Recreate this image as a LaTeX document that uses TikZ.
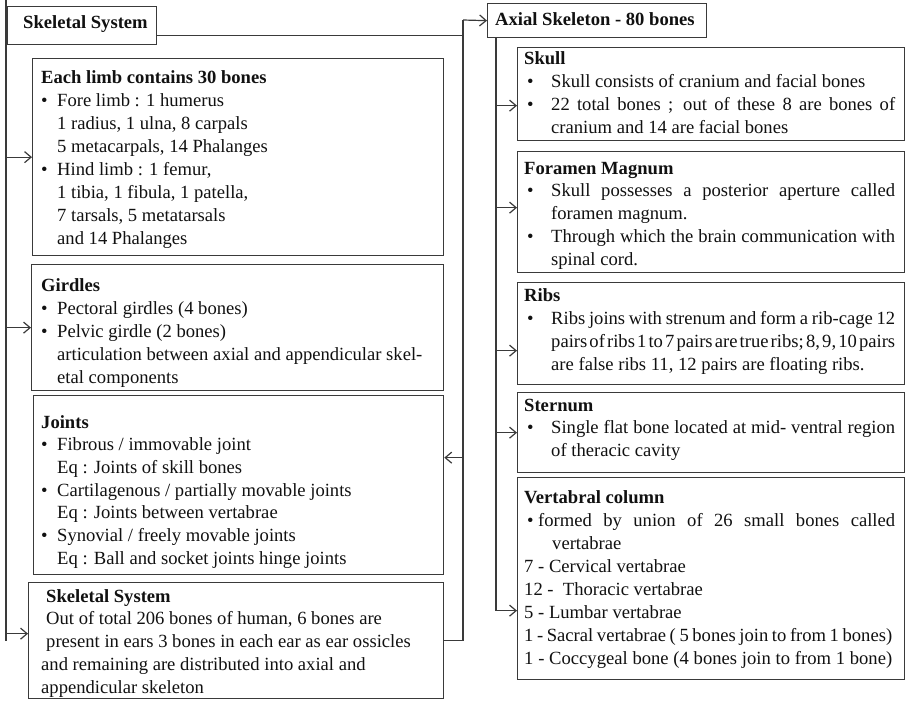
\documentclass[tikz,border=0pt]{standalone}
\usepackage{fontspec}
\setmainfont{Liberation Serif}
\usetikzlibrary{arrows.meta,calc}
\definecolor{ln}{HTML}{3A3A3A}
\definecolor{tx}{HTML}{111111}
\newcommand\jl[2][344pt]{\makebox[#1][s]{\spaceskip=0.1em plus 3em minus 0.05em\relax #2}}
\newcommand\bl{\makebox[16pt][l]{\textbullet}}
\newcommand\br{\hspace*{3pt}\makebox[24pt][l]{\textbullet}}
\newcommand\ind{\hspace*{16pt}}
\newcommand\rind{\hspace*{27pt}}
\newcommand\bx[2]{\begin{minipage}[t]{400pt}\raggedright\setlength\baselineskip{#1}#2\par\end{minipage}}
\tikzset{
  box/.style={draw=ln, line width=1.3pt, anchor=north west, inner sep=0pt, fill=white},
  tb/.style={anchor=base west, inner sep=0pt, text=tx, font=\fontsize{18.6}{23}\selectfont},
  con/.style={draw=ln, line width=1.2pt},
  arr/.style={con, -{Straight Barb[length=6.5pt,width=11pt,line width=1.2pt]}}
}
\begin{document}
\begin{tikzpicture}[x=1pt,y=-1pt]
\useasboundingbox (0,0) rectangle (910,701);
% boxes
\node[box, minimum width=149pt, minimum height=38pt] (top) at (7,6) {};
\node[box, minimum width=411pt, minimum height=197pt] (limb) at (32,58) {};
\node[box, minimum width=412pt, minimum height=126pt] (gird) at (31,264) {};
\node[box, minimum width=410pt, minimum height=179pt] (joint) at (33,395) {};
\node[box, minimum width=415pt, minimum height=116pt] (bot) at (28,582) {};
\node[box, minimum width=219pt, minimum height=34pt] (axial) at (487,3) {};
\node[box, minimum width=387pt, minimum height=93pt] (skull) at (517,47) {};
\node[box, minimum width=387pt, minimum height=121pt] (foram) at (517,151) {};
\node[box, minimum width=387pt, minimum height=102pt] (ribs) at (517,282) {};
\node[box, minimum width=387pt, minimum height=80pt] (stern) at (517,392) {};
\node[box, minimum width=387pt, minimum height=202pt] (vert) at (517,477) {};
% texts
\node[tb] (ttop) at (23,29) {\textbf{Skeletal System}};
\node[tb] (taxial) at (495,26) {\textbf{Axial Skeleton - 80 bones}};
\node[tb] (tlimb) at (41,83) {\bx{23.1pt}{\textbf{Each limb contains 30 bones}\\
\bl Fore limb : 1 humerus\\
\ind 1 radius, 1 ulna, 8 carpals\\
\ind 5 metacarpals, 14 Phalanges\\
\bl Hind limb : 1 femur,\\
\ind 1 tibia, 1 fibula, 1 patella,\\
\ind 7 tarsals, 5 metatarsals\\
\ind and 14 Phalanges}};
\node[tb] (tgird) at (41,291) {\bx{23pt}{\textbf{Girdles}\\
\bl Pectoral girdles (4 bones)\\
\bl Pelvic girdle (2 bones)\\
\ind articulation between axial and appendicular skel-\\
\ind etal components}};
\node[tb] (tjoint) at (41,428) {\bx{22.7pt}{\textbf{Joints}\\
\bl Fibrous / immovable joint\\
\ind Eq : Joints of skill bones\\
\bl Cartilagenous / partially movable joints\\
\ind Eq : Joints between vertabrae\\
\bl Synovial / freely movable joints\\
\ind Eq : Ball and socket joints hinge joints}};
\node[tb] (tbot) at (41,602) {\bx{22.75pt}{\hspace*{5pt}\textbf{Skeletal System}\\
\hspace*{5pt}Out of total 206 bones of human, 6 bones are\\
\hspace*{5pt}present in ears 3 bones in each ear as ear ossicles\\
and remaining are distributed into axial and\\
appendicular skeleton}};
\node[tb] (tskull) at (524,64) {\bx{23.3pt}{\textbf{Skull}\\
\br Skull consists of cranium and facial bones\\
\br\jl{22 total bones ; out of these 8 are bones of}\\
\rind cranium and 14 are facial bones}};
\node[tb] (tforam) at (524,174) {\bx{22.75pt}{\textbf{Foramen Magnum}\\
\br\jl{Skull possesses a posterior aperture called}\\
\rind foramen magnum.\\
\br\jl{Through which the brain communication with}\\
\rind spinal cord.}};
\node[tb] (tribs) at (524,301) {\bx{23pt}{\textbf{Ribs}\\
\br\jl{Ribs joins with strenum and form a rib-cage 12}\\
\rind\jl{pairs of ribs 1 to 7 pairs are true ribs; 8, 9, 10 pairs}\\
\rind are false ribs 11, 12 pairs are floating ribs.}};
\node[tb] (tstern) at (524,411) {\bx{22.5pt}{\textbf{Sternum}\\
\br\jl{Single flat bone located at mid- ventral region}\\
\rind of theracic cavity}};
\node[tb] (tvert) at (524,503) {\bx{23pt}{\textbf{Vertabral column}\\
\hspace*{3pt}\makebox[11pt][l]{\textbullet}\jl[357pt]{formed by union of 26 small bones called}\\
\hspace*{28pt}vertabrae\\
7 - Cervical vertabrae\\
12 -\ \ Thoracic vertabrae\\
5 - Lumbar vertabrae\\
\jl[368pt]{1 - Sacral vertabrae ( 5 bones join to from 1 bones)}\\
\jl[368pt]{1 - Coccygeal bone (4 bones join to from 1 bone)}}};
% connector coordinates
\coordinate (L0) at (6,0);
\coordinate (R0) at (463,20);
\coordinate (A0) at ($(axial.south west)+(9,0)$);
% left trunk
\draw[con] (L0) -- (L0 |- bot.west) coordinate (Lb);
\draw[arr] (L0 |- limb.west) -- (limb.west);
\draw[arr] (L0 |- gird.west) -- (gird.west);
\draw[arr] ($(Lb)+(0,-7)$) -- ($(bot.west)+(0,-7)$);
% right trunk
\draw[con] ($(top.east)+(0,10)$) -- ($(R0 |- top.east)+(0,10)$);
\draw[con] (R0) -- (R0 |- bot.east) -- (bot.east);
\draw[arr] (R0) -- (axial.west);
\draw[arr] ($(R0 |- joint.east)+(0,-27.5)$) -- ($(joint.east)+(0,-27.5)$);
% axial trunk
\draw[con] (A0) -- ($(A0 |- vert.west)+(0,32)$);
\draw[arr] ($(A0 |- skull.west)+(0,11.5)$) -- ($(skull.west)+(0,11.5)$);
\draw[arr] ($(A0 |- foram.west)+(0,-4.5)$) -- ($(foram.west)+(0,-4.5)$);
\draw[arr] ($(A0 |- ribs.west)+(0,17)$) -- ($(ribs.west)+(0,17)$);
\draw[arr] (A0 |- stern.west) -- (stern.west);
\draw[arr] ($(A0 |- vert.west)+(0,32)$) -- ($(vert.west)+(0,32)$);
\end{tikzpicture}
\end{document}
